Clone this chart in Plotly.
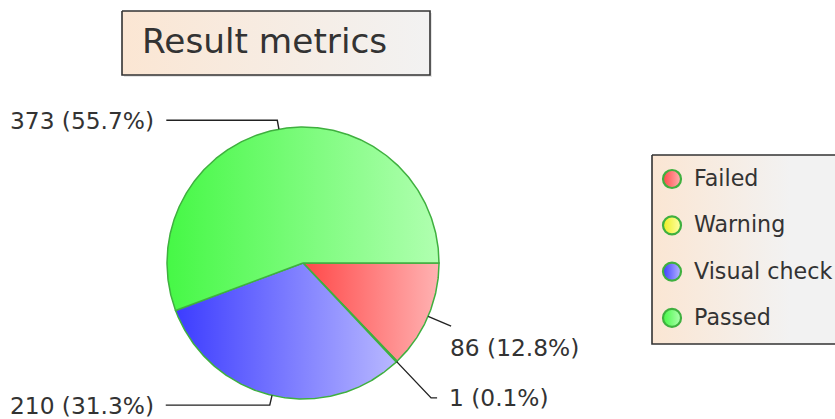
import numpy as np
import plotly.graph_objects as go

# ---------------- data ----------------
categories = ["Failed", "Warning", "Visual check", "Passed"]
values = [86, 1, 210, 373]
title_text = "Result metrics"

# ---------------- style ----------------
W, H = 835, 419
CX, CY, R = 303, 263, 136          # pie centre / radius in pixel space
slice_colors = [("#ff4848", "#ffb2b2"), ("#eeee22", "#ffffa8"),
                ("#3c3cff", "#b8b8ff"), ("#46f846", "#b0ffb0")]
border_green = "#3fb03f"
font = "DejaVu Sans"
text_col = "#333333"
# leader-line style per slice: radial extension, horizontal run, text dx, text dy, anchor
leader_style = [
    (25, 0, -3, 21, "left"),
    (50, 6, 10, 0, "left"),
    (10, -104, -10, 0, "right"),
    (9, -111, -10, 0, "right"),
]

fig = go.Figure()

total = sum(values)
cum = np.cumsum([0] + values) / total * 360.0

# title box
tb = (122, 11, 430, 75)
def rect_xy(x0, y0, x1, y1):
    return [x0, x1, x1, x0, x0], [y0, y0, y1, y1, y0]

sx, sy = rect_xy(tb[0] + 2, tb[1] + 2, tb[2] + 2, tb[3] + 2)
fig.add_trace(go.Scatter(x=sx, y=sy, mode="lines", fill="toself",
                         fillcolor="rgba(0,0,0,0.10)", line=dict(width=0),
                         hoverinfo="skip", showlegend=False))
bx, by = rect_xy(*tb)
fig.add_trace(go.Scatter(x=bx, y=by, mode="lines", fill="toself",
                         fillgradient=dict(type="horizontal",
                                           colorscale=[[0, "#fbe6d3"], [1, "#f2f2f2"]]),
                         line=dict(color="#333333", width=1.6),
                         hoverinfo="skip", showlegend=False))

# pie slices
for i, (cat, v) in enumerate(zip(categories, values)):
    a0, a1 = np.radians(cum[i]), np.radians(cum[i + 1])
    n = max(3, int(np.degrees(a1 - a0) * 2))
    t = np.linspace(a0, a1, n)
    xs = np.concatenate([[CX], CX + R * np.cos(t), [CX]])
    ys = np.concatenate([[CY], CY + R * np.sin(t), [CY]])
    c0, c1 = slice_colors[i]
    fig.add_trace(go.Scatter(x=xs, y=ys, mode="lines", fill="toself",
                             fillgradient=dict(type="horizontal",
                                               colorscale=[[0, c0], [1, c1]]),
                             line=dict(color=border_green, width=1.5),
                             name=cat, hoverinfo="skip", showlegend=False))

# leader lines + labels
annotations = []
for i, v in enumerate(values):
    mid = np.radians((cum[i] + cum[i + 1]) / 2)
    d, h, tdx, tdy, anchor = leader_style[i]
    px, py = CX + R * np.cos(mid), CY + R * np.sin(mid)
    ex, ey = CX + (R + d) * np.cos(mid), CY + (R + d) * np.sin(mid)
    hx = ex + h
    fig.add_trace(go.Scatter(x=[px, ex, hx], y=[py, ey, ey], mode="lines",
                             line=dict(color="#222222", width=1.4),
                             hoverinfo="skip", showlegend=False))
    annotations.append(dict(x=hx + tdx, y=ey + tdy, xref="x", yref="y",
                            text=f"{v} ({v / total * 100:.1f}%)", showarrow=False,
                            xanchor=anchor, yanchor="middle",
                            font=dict(family=font, size=23.3, color=text_col)))

# title text
annotations.append(dict(x=tb[0] + 18, y=(tb[1] + tb[3]) / 2 - 2, xref="x", yref="y",
                        text=title_text, showarrow=False, xanchor="left", yanchor="middle",
                        font=dict(family=font, size=34.3, color="#333333")))

# legend box
lb = (652, 155, 850, 344)
lx, ly = rect_xy(*lb)
fig.add_trace(go.Scatter(x=lx, y=ly, mode="lines", fill="toself",
                         fillgradient=dict(type="horizontal",
                                           colorscale=[[0, "#fbe6d3"], [0.7, "#f2f2f2"], [1, "#f2f2f2"]]),
                         line=dict(color="#333333", width=1.6),
                         hoverinfo="skip", showlegend=False))
leg_x0, leg_y0, leg_dy = 672, 179, 46.3
leg_y = [leg_y0 + k * leg_dy for k in range(len(categories))]
fig.add_trace(go.Scatter(
    x=[leg_x0] * len(categories), y=leg_y, mode="markers",
    marker=dict(size=18, color=[c[0] for c in slice_colors],
                gradient=dict(type="horizontal", color=[c[1] for c in slice_colors]),
                line=dict(color=border_green, width=2.2)),
    hoverinfo="skip", showlegend=False))
for k, cat in enumerate(categories):
    annotations.append(dict(x=leg_x0 + 20, y=leg_y[k] - 1, xref="x", yref="y", text=cat,
                            showarrow=False, xanchor="left", yanchor="middle",
                            font=dict(family=font, size=22.2, color=text_col)))

fig.update_layout(
    width=W, height=H, autosize=False,
    margin=dict(l=0, r=0, t=0, b=0, pad=0),
    paper_bgcolor="white", plot_bgcolor="white",
    xaxis=dict(range=[0, W], visible=False, fixedrange=True),
    yaxis=dict(range=[H, 0], visible=False, fixedrange=True),
    annotations=annotations,
    showlegend=False,
)

fig.write_html("out.html", config={"displayModeBar": False})
